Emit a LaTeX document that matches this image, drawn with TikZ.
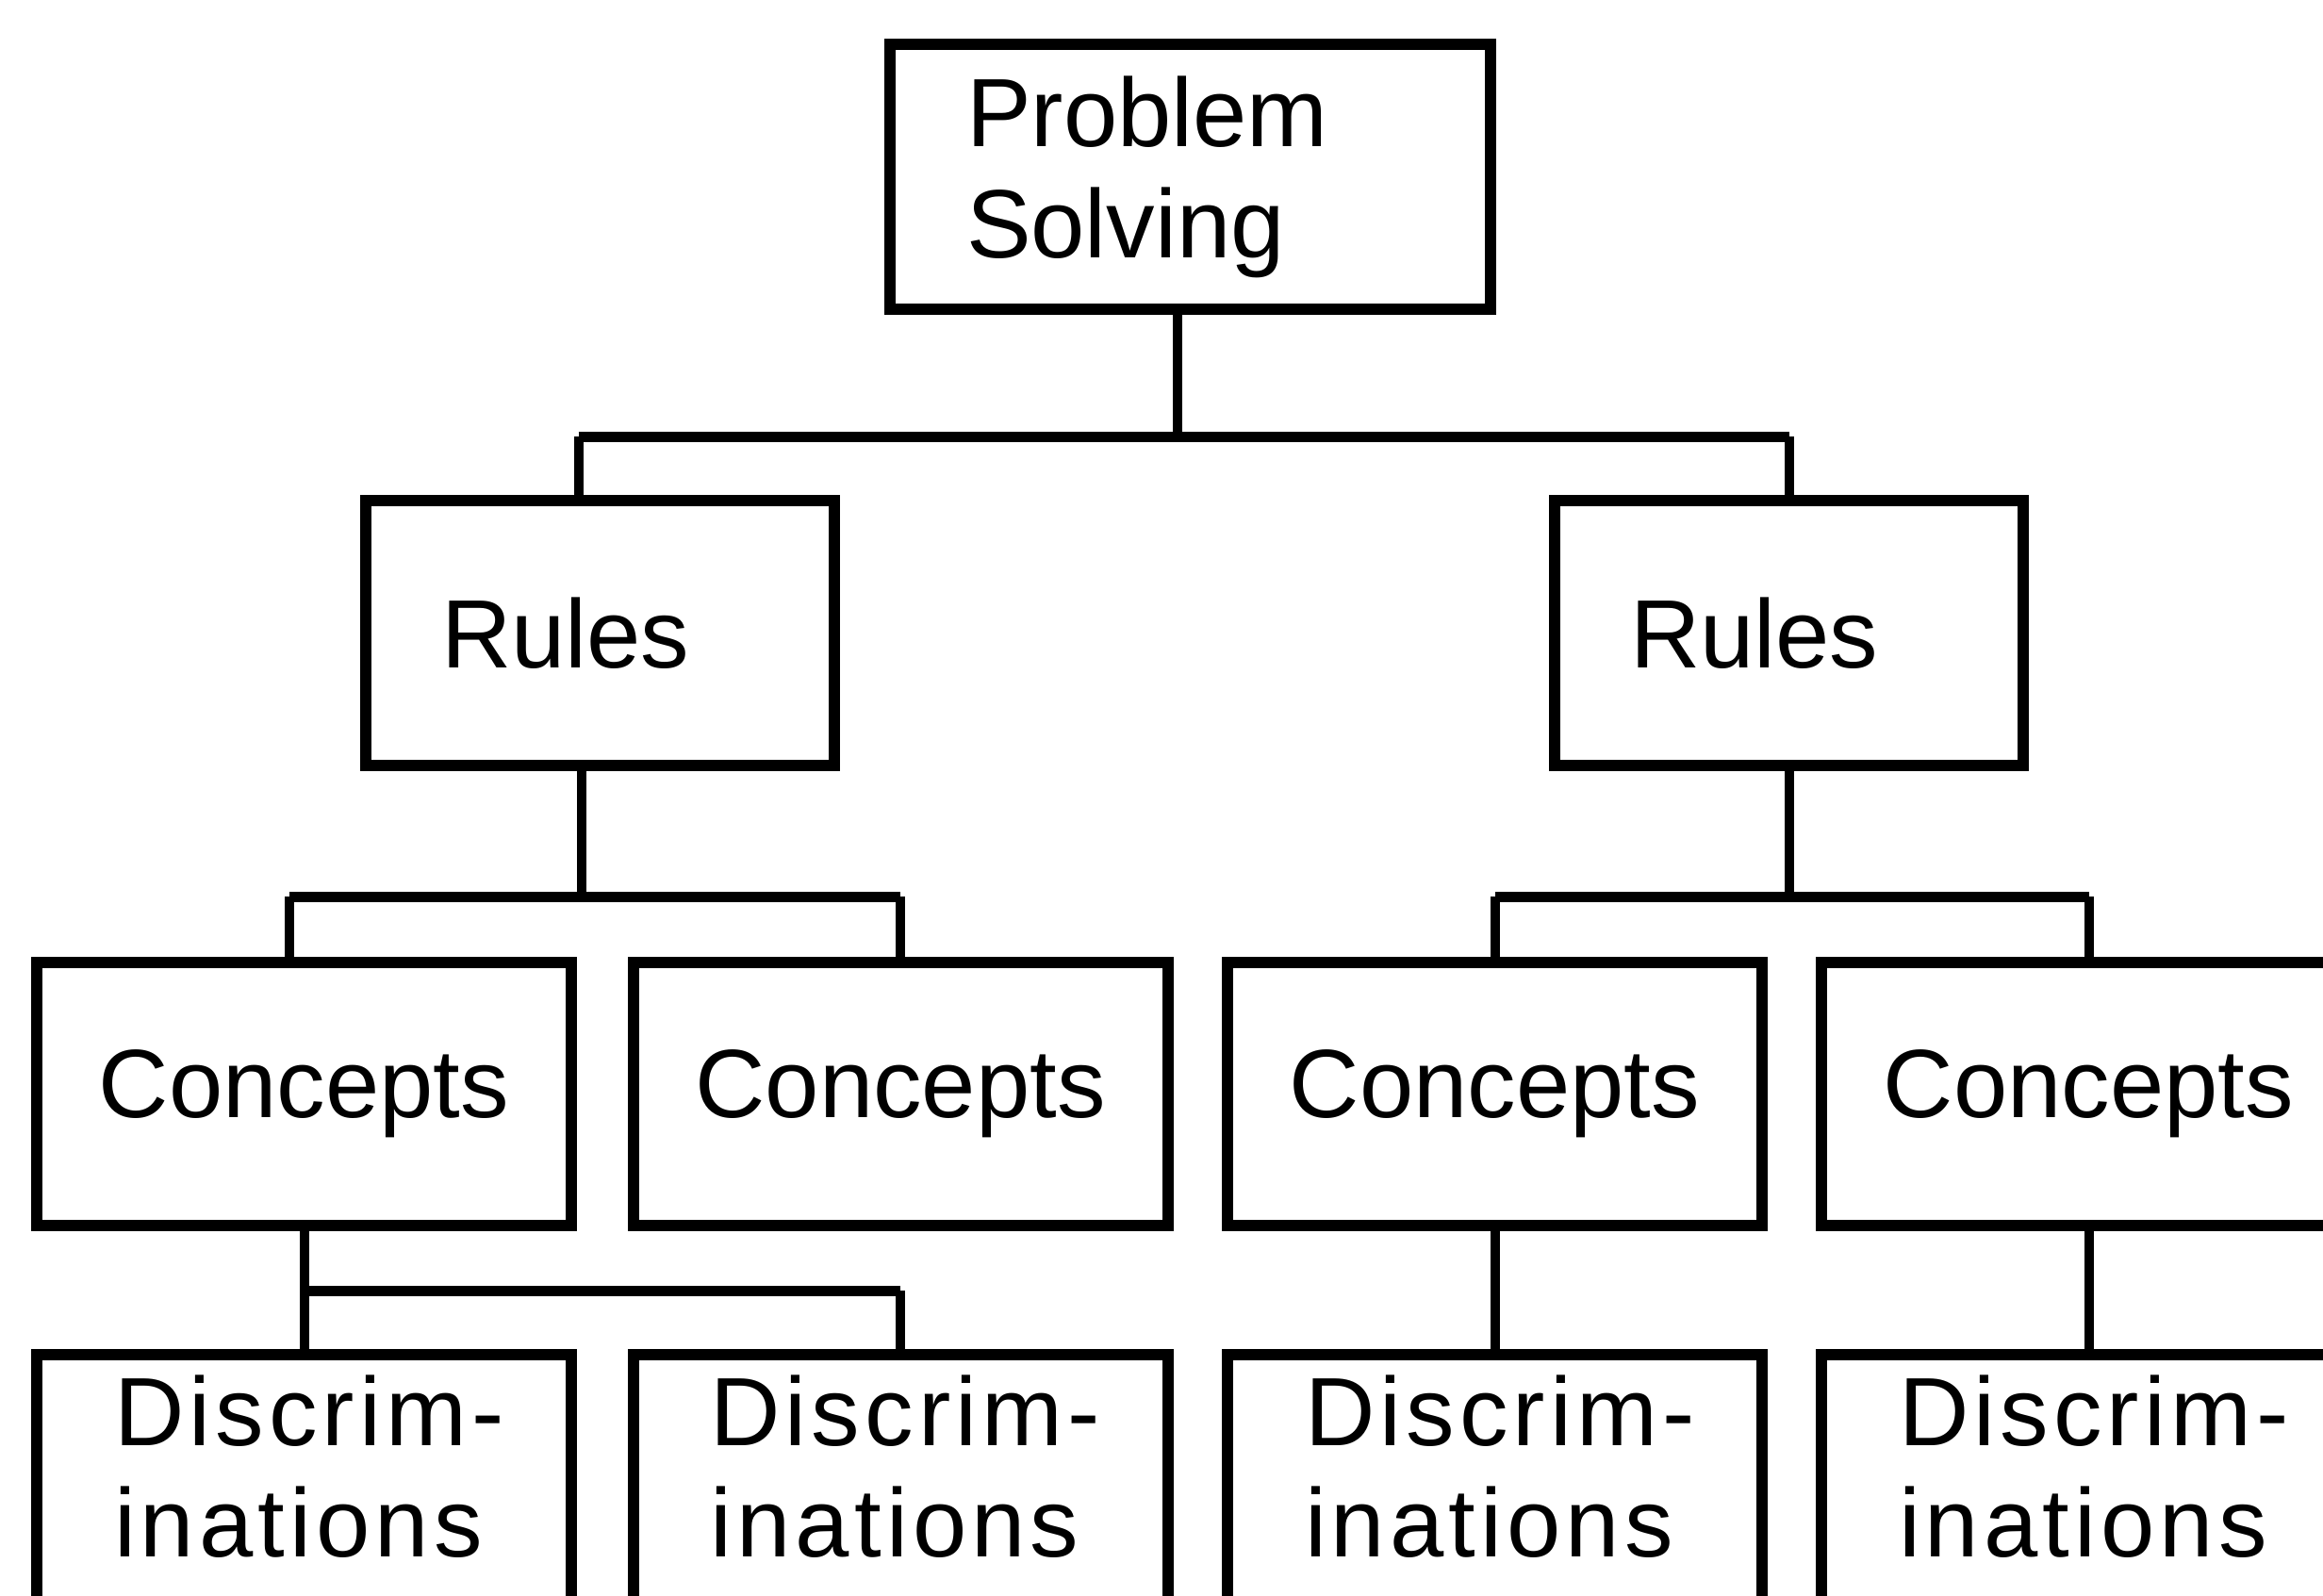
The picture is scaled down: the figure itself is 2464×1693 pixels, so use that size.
\documentclass[tikz,border=0pt]{standalone}
\usepackage{fontspec}
\setmainfont{Liberation Sans}
\newcommand{\boxfont}{\fontsize{103}{118}\selectfont}
\tikzset{
  box/.style={draw, rectangle, line width=12pt, inner sep=0pt, outer sep=0pt,
              font=\boxfont},
  dtext/.style={inner sep=0pt, outer sep=0pt, align=left,
                font=\boxfont\addfontfeatures{LetterSpace=5}},
  stem/.style={line width=10pt},
  bar/.style={line width=11pt, line cap=square},
}
\begin{document}
\begin{tikzpicture}[x=1pt, y=-1pt]
  \useasboundingbox (0,0) rectangle (2464,1693);
  \fill[white] (0,0) rectangle (2464,1693);
  \clip (0,0) rectangle (2464,1693);

  % top level
  \node[box, minimum width=637pt, minimum height=281pt, inner xsep=81pt,
        text width=475pt, align=left] (ps) at (1262.5,187.5) {Problem\\Solving};

  % rules
  \node[box, minimum width=497pt, minimum height=281pt, inner xsep=80pt,
        text width=337pt, align=left] (r1) at (636.5,671.5) {Rules};
  \node[box, minimum width=497pt, minimum height=281pt, inner xsep=80pt,
        text width=337pt, align=left] (r2) at (1897.5,671.5) {Rules};

  % concepts
  \node[box, minimum width=567pt, minimum height=279pt] (c1) at (322.5,1160.5) {Concepts};
  \node[box, minimum width=567pt, minimum height=279pt] (c2) at (955,1160.5) {Concepts};
  \node[box, minimum width=567pt, minimum height=279pt] (c3) at (1585.5,1160.5) {Concepts};
  \node[box, minimum width=567pt, minimum height=279pt] (c4) at (2215.5,1160.5) {Concepts};

  % discriminations (boxes run past the lower edge)
  \node[box, minimum width=567pt, minimum height=267pt] (d1) at (322.5,1570) {};
  \node[box, minimum width=567pt, minimum height=267pt] (d2) at (955,1570) {};
  \node[box, minimum width=567pt, minimum height=267pt] (d3) at (1585.5,1570) {};
  \node[box, minimum width=567pt, minimum height=267pt] (d4) at (2215.5,1570) {};
  \foreach \d in {d1,d2,d3,d4}
    \node[dtext, anchor=north west] (\d t) at ([xshift=82pt, yshift=-22pt]\d.north west)
      {Discrim-\\inations};

  % problem solving -> rules
  \coordinate (p0) at ([xshift=-14pt]ps.south);
  \coordinate (j0) at (p0 |- 0,463);
  \coordinate (q1) at ([xshift=-23pt]r1.north);
  \draw[stem] (p0) -- (j0);
  \draw[stem] (q1) -- (q1 |- j0);
  \draw[stem] (r2.north) -- (r2.north |- j0);
  \draw[bar] (q1 |- j0) -- (r2.north |- j0);

  % rules -> concepts
  \coordinate (p1) at ([xshift=-20pt]r1.south);
  \coordinate (j1) at (p1 |- 0,951);
  \coordinate (q2) at ([xshift=-16pt]c1.north);
  \draw[stem] (p1) -- (j1);
  \draw[stem] (q2) -- (q2 |- j1);
  \draw[stem] (c2.north) -- (c2.north |- j1);
  \draw[bar] (q2 |- j1) -- (c2.north |- j1);

  \coordinate (j2) at (r2.south |- 0,951);
  \draw[stem] (r2.south) -- (j2);
  \draw[stem] (c3.north) -- (c3.north |- j2);
  \draw[stem] (c4.north) -- (c4.north |- j2);
  \draw[bar] (c3.north |- j2) -- (c4.north |- j2);

  % concepts -> discriminations
  \coordinate (j3) at (c1.south |- 0,1369);
  \draw[stem] (c1.south) -- (d1.north);
  \draw[stem] (d2.north) -- (d2.north |- j3);
  \draw[bar] (j3) -- (d2.north |- j3);
  \draw[stem] (c3.south) -- (d3.north);
  \draw[stem] (c4.south) -- (d4.north);
\end{tikzpicture}
\end{document}
